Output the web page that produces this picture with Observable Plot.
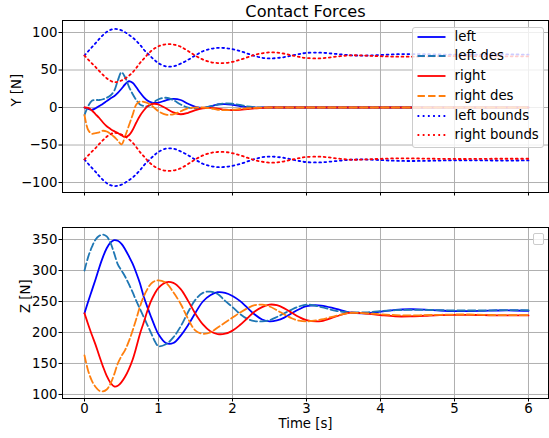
<!DOCTYPE html>
<html><head><meta charset="utf-8">
<script src="https://cdn.jsdelivr.net/npm/d3@7"></script>
<script src="https://cdn.jsdelivr.net/npm/@observablehq/plot@0.6"></script>
<style>
body{margin:0;background:#fff;font-family:"DejaVu Sans",sans-serif;}
#wrap{position:relative;width:549px;height:438px;overflow:hidden;}
#wrap svg{display:block;}
.legend{position:absolute;box-sizing:border-box;border:1px solid #cccccc;border-radius:3px;background:rgba(255,255,255,0.8);}
.row{position:absolute;left:0;height:20px;width:100%;}
.row svg{position:absolute;left:4px;top:7px;}
.row span{position:absolute;left:42px;top:0;line-height:20px;font-size:13.3px;color:#000;white-space:nowrap;font-family:"DejaVu Sans",sans-serif;}
</style></head>
<body><div id="wrap"></div>
<script>
// ---- data ----
const title = "Contact Forces";
const yLabelTop = "Y [N]";
const yLabelBottom = "Z [N]";
const xLabel = "Time [s]";
const xTicks = [0, 1, 2, 3, 4, 5, 6];
const yTicksTop = [-100, -50, 0, 50, 100];
const yTicksBottom = [100, 150, 200, 250, 300, 350];
const seriesNames = ["left", "left des", "right", "right des", "left bounds", "right bounds"];

const time = [0,0.05,0.1,0.15,0.2,0.25,0.3,0.35,0.4,0.45,0.5,0.55,0.6,0.65,0.7,0.75,0.8,0.85,0.9,0.95,1.0,
1.1,1.2,1.3,1.4,1.5,1.6,1.7,1.8,1.9,2.0,2.1,2.2,2.3,2.4,2.5,2.6,2.7,2.8,2.9,3.0,
3.2,3.4,3.6,3.8,4.0,4.2,4.4,4.6,4.8,5.0,5.2,5.4,5.6,5.8,6.0];

const leftY = [0,-2,-3,-1,2,5,8.5,12,15,19.5,25,31,35,33,27,20,14,9.5,7,6,6.5,
9.5,11.5,10,5,1,-0.5,1.5,4,4.5,3.5,2,0.5,0,0,0,0,0,0,0,0,
0,0,0,0,0,0,0,0,0,0,0,0,0,0,0];
const leftDesY = [-10,2,9,10,10,11,13,16,22,36,47,40,28,18,10,4,2,1.5,4,8,11,
13,10,4,0,-1,-0.5,1.5,4,5.5,5,3.5,1.5,0.5,0,0,0,0,0,0,0,
0,0,0,0,0,0,0,0,0,0,0,0,0,0,0];
const rightY = [0,-0.5,-4,-9,-14,-20,-25,-28.5,-31.5,-34,-37,-39.5,-37,-30,-20,-11,-4,1.5,4.5,5,4,
-1,-6.5,-9,-7,-3.5,-1,-0.5,-1.5,-3,-3.5,-3,-2,-1,-0.5,0,0,0,0,0,0,
0,0,0,0,0,0,0,0,0,0,0,0,0,0,0];
const rightDesY = [-10,-30,-35,-34,-33,-31,-32,-35,-39,-44,-49,-38,-24,-10,4,8,7.5,6,3,-1,-5,
-9.5,-9,-5,-1,0,0,-1,-3,-3.5,-3,-2,-1,-0.5,0,0,0,0,0,0,0,
0,0,0,0,0,0,0,0,0,0,0,0,0,0,0];

const leftUpperY = [69.3,75,80.4,85.8,91.5,96.6,100.8,103.5,104.7,104.4,102.9,100.2,96.9,93.3,88.8,83.7,77.4,72.3,67.5,63,59.1,
54.9,54.9,58.5,63.6,69.6,75,78,79.5,79.2,77.7,75.3,72,68.7,66.3,65.4,65.9,67.2,69.3,71.3,72.8,
73.1,71.4,69.6,69.3,70.1,71,71.3,71.1,70.7,70.4,70.4,70.5,70.7,70.7,70.5];
const leftLowerY = [-69.3,-75,-80.4,-85.8,-91.5,-96.6,-100.8,-103.5,-104.7,-104.4,-102.9,-100.2,-96.9,-93.3,-88.8,-83.7,-77.4,-72.3,-67.5,-63,-59.1,
-54.9,-54.9,-58.5,-63.6,-69.6,-75,-78,-79.5,-79.2,-77.7,-75.3,-72,-68.7,-66.3,-65.4,-65.9,-67.2,-69.3,-71.3,-72.8,
-73.1,-71.4,-69.6,-69.3,-70.1,-71,-71.3,-71.1,-70.7,-70.4,-70.4,-70.5,-70.7,-70.7,-70.5];
const rightUpperY = [69.3,63.9,58.8,54,48.6,43.5,39,35.7,33.9,34.2,36,38.7,42.3,46.8,52.8,59.4,64.8,70.5,75.3,78.9,81.6,
84.3,84,81,75.3,69,63.9,60.6,59.3,59.4,60.9,63.6,66.9,70.2,72.3,73.5,73.2,71.7,69.6,67.5,66,
65.6,67.8,69.6,69.2,68.4,67.8,67.8,68.1,68.4,68.6,68.6,68.4,68.3,68.3,68.3];
const rightLowerY = [-69.3,-63.9,-58.8,-54,-48.6,-43.5,-39,-35.7,-33.9,-34.2,-36,-38.7,-42.3,-46.8,-52.8,-59.4,-64.8,-70.5,-75.3,-78.9,-81.6,
-84.3,-84,-81,-75.3,-69,-63.9,-60.6,-59.3,-59.4,-60.9,-63.6,-66.9,-70.2,-72.3,-73.5,-73.2,-71.7,-69.6,-67.5,-66,
-65.6,-67.8,-69.6,-69.2,-68.4,-67.8,-67.8,-68.1,-68.4,-68.6,-68.6,-68.4,-68.3,-68.3,-68.3];

const leftZ = [231,250,268,286,305,322,336,345,349,348,343,334,323,311,296,279,258,241,225,210,197,
183,183,195,212,232,250,260,265,264,259,251,240,229,221,218,219.5,224,231,237.5,242.5,
243.5,238,232,231,233.5,236.5,237.5,237,235.5,234.5,234.5,235,235.5,235.5,235];
const leftDesZ = [300,322,338,350,356,358,355,345,328,310,300,290,278,265,251,238,225,212,199,186,178,
181,192,210,233,253,264,266,262,251,241,230,222,218.5,218,220,225,231,237,242,245,
241,235,232.5,232.5,234.5,236,236.5,236.5,236,235.5,235.5,235.5,236,236,236];
const rightZ = [231,213,196,180,162,145,130,119,113,114,120,129,141,156,176,198,216,235,251,263,272,
281,280,270,251,230,213,202,197.5,198,203,212,223,234,241,245,244,239,232,225,220,
218.5,226,232,230.5,228,226,226,227,228,228.5,228.5,228,227.5,227.5,227.5];
const rightDesZ = [163,138,122,112,106,105,108,117,132,150,162,172,186,203,222,242,258,270,279,283,284,
280,265,246,222,203,198,200,208,216,224,232,239,244,245,242,236,229,223,219,218,
221,227,231.5,231,229.5,228,227.5,228,228.5,229,229,228.5,228,228,228];

// ---- styling ----
const BLUE = "#0000ff", TABBLUE = "#1f77b4", RED = "#ff0000", ORANGE = "#ff7f0e";
const SOLID = null, DASH = "7.4,3.2", DOT = "1.8,3.4";
const LW = 1.8;
const xDomain = [-0.2973, 6.2703];
const GRID = {stroke: "#b0b0b0", strokeOpacity: 1, strokeWidth: 1};
const FONT = "DejaVu Sans";

function line(vals, color, dash) {
  const rows = time.map((t, i) => ({t, v: vals[i]}));
  const o = {x: "t", y: "v", stroke: color, strokeWidth: LW, curve: "catmull-rom"};
  if (dash) o.strokeDasharray = dash;
  return Plot.line(rows, o);
}

const topPlot = Plot.plot({
  width: 549, height: 200,
  marginLeft: 62, marginRight: 1, marginTop: 20, marginBottom: 8,
  x: {domain: xDomain},
  y: {domain: [-113.3, 116]},
  style: {fontFamily: FONT, fontSize: "13.3px", background: "white", color: "black", overflow: "visible"},
  marks: [
    Plot.gridX({ticks: xTicks, ...GRID}),
    Plot.gridY({ticks: yTicksTop, ...GRID}),
    line(leftY, BLUE, SOLID),
    line(leftDesY, TABBLUE, DASH),
    line(rightY, RED, SOLID),
    line(rightDesY, ORANGE, DASH),
    line(leftUpperY, BLUE, DOT),
    line(leftLowerY, BLUE, DOT),
    line(rightUpperY, RED, DOT),
    line(rightLowerY, RED, DOT),
    Plot.frame({stroke: "black", strokeWidth: 1}),
    Plot.axisX({ticks: xTicks, tickSize: 3.5, tickFormat: () => "", label: null}),
    Plot.axisY({ticks: yTicksTop, tickSize: 3.5, tickPadding: 1.5, label: null, fontSize: 13.3}),
    Plot.text([yLabelTop], {text: d => d, frameAnchor: "left", dx: -46, rotate: -90, fontSize: 13.3, fill: "black"}),
    Plot.text([title], {text: d => d, frameAnchor: "top", dy: -9, lineAnchor: "middle", fontSize: 16.2, fill: "black"})
  ]
});

const bottomPlot = Plot.plot({
  width: 549, height: 238,
  marginLeft: 62, marginRight: 1, marginTop: 27, marginBottom: 40,
  x: {domain: xDomain},
  y: {domain: [93.5, 369.4]},
  style: {fontFamily: FONT, fontSize: "13.3px", background: "white", color: "black", overflow: "visible"},
  marks: [
    Plot.gridX({ticks: xTicks, ...GRID}),
    Plot.gridY({ticks: yTicksBottom, ...GRID}),
    line(leftZ, BLUE, SOLID),
    line(leftDesZ, TABBLUE, DASH),
    line(rightZ, RED, SOLID),
    line(rightDesZ, ORANGE, DASH),
    Plot.frame({stroke: "black", strokeWidth: 1}),
    Plot.axisX({ticks: xTicks, tickSize: 3.5, tickPadding: 1.5, tickFormat: d3.format("d"), label: null, fontSize: 13.3}),
    Plot.axisY({ticks: yTicksBottom, tickSize: 3.5, tickPadding: 1.5, label: null, fontSize: 13.3}),
    Plot.text([yLabelBottom], {text: d => d, frameAnchor: "left", dx: -37, rotate: -90, fontSize: 13.3, fill: "black"}),
    Plot.text([xLabel], {text: d => d, frameAnchor: "bottom", dy: 25.5, lineAnchor: "middle", fontSize: 13.3, fill: "black"})
  ]
});

const wrap = document.getElementById("wrap");
wrap.appendChild(topPlot);
wrap.appendChild(bottomPlot);

// legend (top panel)
const legendStyles = [[BLUE, SOLID], [TABBLUE, DASH], [RED, SOLID], [ORANGE, DASH], [BLUE, DOT], [RED, DOT]];
const leg = document.createElement("div");
leg.className = "legend";
Object.assign(leg.style, {left: "411.5px", top: "26.5px", width: "132px", height: "121px"});
seriesNames.forEach((name, i) => {
  const row = document.createElement("div");
  row.className = "row";
  row.style.top = (36.7 + 19.7 * i - 10 - 26.5 - 1) + "px";
  const [c, d] = legendStyles[i];
  row.innerHTML = `<svg width="30" height="6"><line x1="0.5" y1="3" x2="28.5" y2="3" stroke="${c}" stroke-width="${LW}" ${d ? `stroke-dasharray="${d}"` : ""}/></svg><span>${name}</span>`;
  leg.appendChild(row);
});
wrap.appendChild(leg);

// empty legend (bottom panel)
const leg2 = document.createElement("div");
leg2.className = "legend";
Object.assign(leg2.style, {left: "532.5px", top: "233px", width: "11.5px", height: "11.5px", borderRadius: "2px"});
wrap.appendChild(leg2);
</script>
</body></html>
